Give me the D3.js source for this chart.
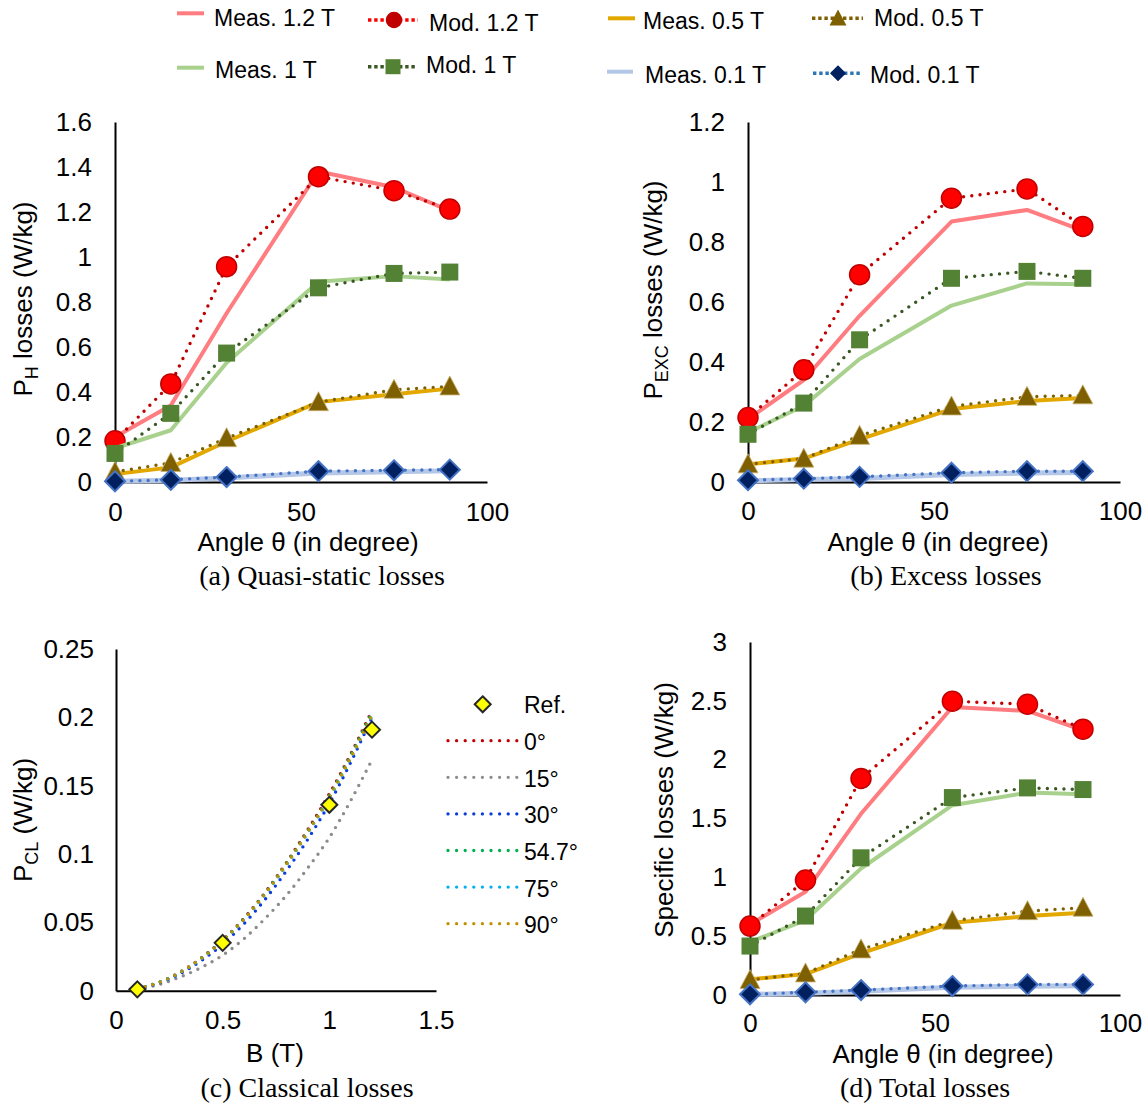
<!DOCTYPE html>
<html><head><meta charset="utf-8">
<script src="https://cdn.jsdelivr.net/npm/d3@7"></script>
<style>
body{margin:0;background:#fff}
text{font-family:"Liberation Sans",Arial,sans-serif;fill:#000}
.cap{font-family:"Liberation Serif","Times New Roman",serif}
</style>
</head><body><script>
// ---------------- DATA ----------------
const angles = [0, 15, 30, 54.7, 75, 90];
const angleTicks = [0, 50, 100];
const angleTickLabels = ["0", "50", "100"];

// (a) quasi-static losses P_H (W/kg)
const aMeas12 = [0.20, 0.34, 0.75, 1.38, 1.31, 1.205];
const aMod12  = [0.183, 0.436, 0.957, 1.357, 1.295, 1.213];
const aMeas1  = [0.15, 0.23, 0.53, 0.89, 0.915, 0.90];
const aMod1   = [0.127, 0.305, 0.573, 0.863, 0.927, 0.933];
const aMeas05 = [0.035, 0.065, 0.18, 0.355, 0.39, 0.415];
const aMod05  = [0.045, 0.085, 0.195, 0.355, 0.41, 0.425];
const aMeas01 = [0.003, 0.008, 0.018, 0.04, 0.045, 0.05];
const aMod01  = [0.003, 0.01, 0.022, 0.048, 0.052, 0.055];
const aYTicks = [0, 0.2, 0.4, 0.6, 0.8, 1, 1.2, 1.4, 1.6];
const aYLabels = ["0", "0.2", "0.4", "0.6", "0.8", "1", "1.2", "1.4", "1.6"];

// (b) excess losses P_EXC (W/kg)
const bMeas12 = [0.21, 0.34, 0.554, 0.868, 0.907, 0.838];
const bMod12  = [0.215, 0.374, 0.691, 0.946, 0.977, 0.852];
const bMeas1  = [0.165, 0.254, 0.41, 0.588, 0.662, 0.659];
const bMod1   = [0.159, 0.263, 0.474, 0.679, 0.702, 0.679];
const bMeas05 = [0.059, 0.078, 0.142, 0.243, 0.27, 0.28];
const bMod05  = [0.059, 0.078, 0.154, 0.252, 0.284, 0.289];
const bMeas01 = [0.004, 0.008, 0.012, 0.025, 0.03, 0.032];
const bMod01  = [0.006, 0.011, 0.017, 0.031, 0.036, 0.036];
const bYTicks = [0, 0.2, 0.4, 0.6, 0.8, 1, 1.2];
const bYLabels = ["0", "0.2", "0.4", "0.6", "0.8", "1", "1.2"];

// (c) classical losses P_CL (W/kg) vs B (T)
const bGrid  = [0.1, 0.2, 0.3, 0.4, 0.5, 0.6, 0.7, 0.8, 0.9, 1.0, 1.1, 1.2];
const cl0    = [0.0015, 0.006, 0.0135, 0.024, 0.037, 0.053, 0.072, 0.094, 0.118, 0.144, 0.173, 0.205];
const cl15   = [0.0012, 0.0045, 0.010, 0.017, 0.026, 0.038, 0.053, 0.070, 0.090, 0.112, 0.139, 0.169];
const cl30   = [0.0014, 0.0055, 0.0125, 0.022, 0.034, 0.049, 0.067, 0.088, 0.111, 0.137, 0.167, 0.200];
const cl547  = [0.0015, 0.006, 0.0134, 0.0238, 0.0367, 0.0526, 0.0715, 0.0933, 0.117, 0.1425, 0.172, 0.2035];
const cl75   = [0.0015, 0.0059, 0.0132, 0.0235, 0.0363, 0.052, 0.0707, 0.0923, 0.1158, 0.141, 0.170, 0.201];
const cl90   = [0.0015, 0.0059, 0.0133, 0.0236, 0.0365, 0.0522, 0.071, 0.0927, 0.1162, 0.1415, 0.1705, 0.2015];
const refB   = [0.1, 0.5, 1.0, 1.2];
const refP   = [0.001, 0.035, 0.136, 0.191];
const clLabels = ["0°", "15°", "30°", "54.7°", "75°", "90°"];
const cXTicks = [0, 0.5, 1, 1.5];
const cXLabels = ["0", "0.5", "1", "1.5"];
const cYTicks = [0, 0.05, 0.1, 0.15, 0.2, 0.25];
const cYLabels = ["0", "0.05", "0.1", "0.15", "0.2", "0.25"];

// (d) total losses (W/kg)
const dMeas12 = [0.60, 0.877, 1.54, 2.448, 2.414, 2.25];
const dMod12  = [0.586, 0.977, 1.84, 2.497, 2.471, 2.259];
const dMeas1  = [0.45, 0.637, 1.075, 1.613, 1.72, 1.707];
const dMod1   = [0.416, 0.671, 1.166, 1.678, 1.76, 1.746];
const dMeas05 = [0.133, 0.178, 0.354, 0.614, 0.671, 0.699];
const dMod05  = [0.127, 0.184, 0.388, 0.631, 0.713, 0.742];
const dMeas01 = [0.005, 0.015, 0.032, 0.065, 0.075, 0.078];
const dMod01  = [0.006, 0.023, 0.042, 0.076, 0.09, 0.09];
const dYTicks = [0, 0.5, 1, 1.5, 2, 2.5, 3];
const dYLabels = ["0", "0.5", "1", "1.5", "2", "2.5", "3"];

const legendMeas = ["Meas. 1.2 T", "Meas. 1 T", "Meas. 0.5 T", "Meas. 0.1 T"];
const legendMod  = ["Mod. 1.2 T", "Mod. 1 T", "Mod. 0.5 T", "Mod. 0.1 T"];

// ---------------- STYLES ----------------
const FIELD = [
  {measColor:"#FF7C80", modColor:"#C00000", legDot:"#FF0000", marker:"circle"},
  {measColor:"#A9D18E", modColor:"#385723", legDot:"#385723", marker:"square"},
  {measColor:"#E2A800", modColor:"#7F6000", legDot:"#7F6000", marker:"triangle"},
  {measColor:"#B4C7E7", modColor:"#4472C4", legDot:"#2E75B6", marker:"diamond"}
];
const CL_COLORS = ["#C00000", "#8C8C8C", "#0A3CDC", "#00B050", "#00B0F0", "#BF9000"];
const FS = 26;

const svg = d3.select("body").append("svg").attr("width", 1148).attr("height", 1106);
svg.append("rect").attr("width", 1148).attr("height", 1106).attr("fill", "#fff");

function drawMarker(g, type, cx, cy, legend) {
  if (type === "circle") {
    g.append("circle").attr("cx", cx).attr("cy", cy).attr("r", legend ? 7.5 : 10)
      .attr("fill", legend ? "#C00000" : "#FF0000").attr("stroke", "#C00000").attr("stroke-width", 1.5);
  } else if (type === "square") {
    const s = legend ? 15 : 17;
    g.append("rect").attr("x", cx - s/2).attr("y", cy - s/2).attr("width", s).attr("height", s)
      .attr("fill", "#548235");
  } else if (type === "triangle") {
    const w = legend ? 17 : 20, h = legend ? 16 : 19;
    g.append("path").attr("d", `M${cx},${cy - h*0.55}L${cx + w/2},${cy + h*0.45}L${cx - w/2},${cy + h*0.45}Z`)
      .attr("fill", "#7F6000").attr("stroke", legend ? "none" : "#C9B070").attr("stroke-width", 0.8);
  } else if (type === "diamond") {
    const r = legend ? 8 : 10;
    g.append("path").attr("d", `M${cx},${cy - r}L${cx + r},${cy}L${cx},${cy + r}L${cx - r},${cy}Z`)
      .attr("fill", "#002060").attr("stroke", legend ? "none" : "#4472C4").attr("stroke-width", 2);
  } else if (type === "ref") {
    const r = 8;
    g.append("path").attr("d", `M${cx},${cy - r}L${cx + r},${cy}L${cx},${cy + r}L${cx - r},${cy}Z`)
      .attr("fill", "#FFFF00").attr("stroke", "#262626").attr("stroke-width", 2);
  }
}

function axes(g, x, y, o) {
  const yAx = g.append("g").attr("transform", `translate(${x.range()[0]},0)`)
    .call(d3.axisLeft(y).tickValues(o.yTicks).tickFormat((d, i) => o.yLabels[i])
      .tickSize(0).tickSizeOuter(0).tickPadding(o.yPad));
  const xAx = g.append("g").attr("transform", `translate(0,${y.range()[0]})`)
    .call(d3.axisBottom(x).tickValues(o.xTicks).tickFormat((d, i) => o.xLabels[i])
      .tickSize(0).tickSizeOuter(0).tickPadding(o.xPad));
  [yAx, xAx].forEach(a => {
    a.select(".domain").attr("stroke", "#000").attr("stroke-width", 2);
    a.selectAll("text").attr("font-size", FS).attr("font-family", "Liberation Sans, Arial, sans-serif").attr("fill", "#000");
  });
  return [xAx, yAx];
}

function yTitle(g, tx, ty, main, sub, rest) {
  const t = g.append("text").attr("transform", `translate(${tx},${ty}) rotate(-90)`)
    .attr("text-anchor", "middle").attr("font-size", FS);
  t.append("tspan").text(main);
  if (sub) {
    t.append("tspan").attr("font-size", 18).attr("dy", 6).text(sub);
    t.append("tspan").attr("dy", -6).text(rest);
  }
}

function anglePanel(o) {
  const g = svg.append("g");
  const x = d3.scaleLinear().domain([0, 100]).range([o.x0, o.x1]);
  const y = d3.scaleLinear().domain([0, o.yTicks[o.yTicks.length - 1]]).range([o.y0, o.y1]);
  axes(g, x, y, {yTicks: o.yTicks, yLabels: o.yLabels, xTicks: angleTicks, xLabels: angleTickLabels, yPad: 23, xPad: o.xPad});
  const line = d3.line().x((d, i) => x(angles[i])).y(d => y(d));
  const order = [0, 2, 1, 3];
  order.forEach(k => {
    const st = FIELD[k];
    g.append("path").attr("d", line(o.meas[k])).attr("fill", "none")
      .attr("stroke", st.measColor).attr("stroke-width", k === 3 ? 5 : 4).attr("stroke-linejoin", "round");
    g.append("path").attr("d", line(o.mod[k])).attr("fill", "none")
      .attr("stroke", st.modColor).attr("stroke-width", 3.4).attr("stroke-linecap", "round")
      .attr("stroke-dasharray", "0 8.3");
    o.mod[k].forEach((v, i) => drawMarker(g, st.marker, x(angles[i]), y(v), false));
  });
  g.append("text").attr("x", o.titleX).attr("y", o.titleY).attr("text-anchor", "middle")
    .attr("font-size", FS).text("Angle θ (in degree)");
  g.append("text").attr("class", "cap").attr("x", o.capX).attr("y", o.capY).attr("text-anchor", "middle")
    .attr("font-size", 28).text(o.caption);
  yTitle(g, o.ytX, o.ytY, o.yt[0], o.yt[1], o.yt[2]);
}

anglePanel({x0: 115, x1: 487, y0: 482, y1: 122, yTicks: aYTicks, yLabels: aYLabels, xPad: 21,
  meas: [aMeas12, aMeas1, aMeas05, aMeas01], mod: [aMod12, aMod1, aMod05, aMod01],
  titleX: 308, titleY: 551, capX: 322, capY: 585, caption: "(a) Quasi-static losses",
  ytX: 32, ytY: 299, yt: ["P", "H", " losses (W/kg)"]});

anglePanel({x0: 748, x1: 1120, y0: 482, y1: 122, yTicks: bYTicks, yLabels: bYLabels, xPad: 20,
  meas: [bMeas12, bMeas1, bMeas05, bMeas01], mod: [bMod12, bMod1, bMod05, bMod01],
  titleX: 938, titleY: 551, capX: 946, capY: 585, caption: "(b) Excess losses",
  ytX: 662, ytY: 290, yt: ["P", "EXC", " losses (W/kg)"]});

anglePanel({x0: 750, x1: 1120, y0: 995, y1: 642, yTicks: dYTicks, yLabels: dYLabels, xPad: 19,
  meas: [dMeas12, dMeas1, dMeas05, dMeas01], mod: [dMod12, dMod1, dMod05, dMod01],
  titleX: 943, titleY: 1063, capX: 925, capY: 1097, caption: "(d) Total losses",
  ytX: 673, ytY: 810, yt: ["Specific losses (W/kg)", null, null]});

// ---------------- (c) ----------------
(function () {
  const g = svg.append("g");
  const x = d3.scaleLinear().domain([0, 1.5]).range([116, 436]);
  const y = d3.scaleLinear().domain([0, 0.25]).range([990.7, 649]);
  axes(g, x, y, {yTicks: cYTicks, yLabels: cYLabels, xTicks: cXTicks, xLabels: cXLabels, yPad: 22, xPad: 20});
  const line = d3.line().x((d, i) => x(bGrid[i])).y(d => y(d)).curve(d3.curveMonotoneX);
  const curves = [cl0, cl15, cl30, cl547, cl75, cl90];
  curves.forEach((c, k) => {
    g.append("path").attr("d", line(c)).attr("fill", "none").attr("stroke", CL_COLORS[k])
      .attr("stroke-width", 3.4).attr("stroke-linecap", "round").attr("stroke-dasharray", "0 8");
  });
  refB.forEach((b, i) => drawMarker(g, "ref", x(b), y(refP[i]), false));
  // legend
  drawMarker(g, "ref", 482.7, 704.3, true);
  g.append("text").attr("x", 524).attr("y", 713).attr("font-size", 23).text("Ref.");
  clLabels.forEach((lab, k) => {
    const yy = 740.7 + k * 36.6;
    g.append("line").attr("x1", 448).attr("x2", 517).attr("y1", yy).attr("y2", yy)
      .attr("stroke", CL_COLORS[k]).attr("stroke-width", 3.3).attr("stroke-linecap", "round")
      .attr("stroke-dasharray", "0 8.6");
    g.append("text").attr("x", 524).attr("y", yy + 9.5).attr("font-size", 23).text(lab);
  });
  g.append("text").attr("x", 275).attr("y", 1062).attr("text-anchor", "middle").attr("font-size", FS).text("B (T)");
  g.append("text").attr("class", "cap").attr("x", 307).attr("y", 1097).attr("text-anchor", "middle")
    .attr("font-size", 28).text("(c) Classical losses");
  yTitle(g, 32, 820, "P", "CL", " (W/kg)");
})();

// ---------------- LEGEND ----------------
(function () {
  const g = svg.append("g");
  const measPos = [{x1: 177, x2: 204, y: 13.3, tx: 214, ty: 25.7},
                   {x1: 177, x2: 204, y: 67.7, tx: 215, ty: 78.3},
                   {x1: 608, x2: 635, y: 18.3, tx: 643, ty: 29.3},
                   {x1: 607, x2: 633, y: 71.7, tx: 645, ty: 83.3}];
  const modPos = [{x1: 368, x2: 418, mx: 394, y: 20, tx: 429, ty: 30.7},
                  {x1: 368, x2: 415, mx: 393, y: 66.7, tx: 426, ty: 73.3},
                  {x1: 812, x2: 863, mx: 838, y: 18.3, tx: 874, ty: 26},
                  {x1: 813, x2: 860, mx: 838, y: 73.3, tx: 870, ty: 83.3}];
  FIELD.forEach((st, k) => {
    const m = measPos[k];
    g.append("line").attr("x1", m.x1).attr("x2", m.x2).attr("y1", m.y).attr("y2", m.y)
      .attr("stroke", st.measColor).attr("stroke-width", 4);
    g.append("text").attr("x", m.tx).attr("y", m.ty).attr("font-size", 23).text(legendMeas[k]);
    const p = modPos[k];
    g.append("line").attr("x1", p.x1).attr("x2", p.x2).attr("y1", p.y).attr("y2", p.y)
      .attr("stroke", st.legDot).attr("stroke-width", 3.4).attr("stroke-dasharray", "3.4 2.8");
    drawMarker(g, st.marker, p.mx, p.y, true);
    g.append("text").attr("x", p.tx).attr("y", p.ty).attr("font-size", 23).text(legendMod[k]);
  });
})();
</script></body></html>
